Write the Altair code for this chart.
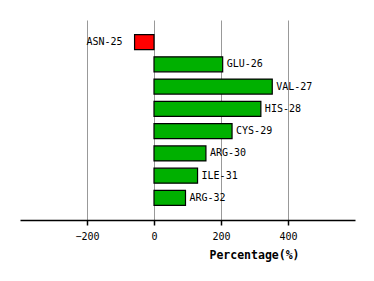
import altair as alt
import pandas as pd

residues = ["ASN-25", "GLU-26", "VAL-27", "HIS-28", "CYS-29", "ARG-30", "ILE-31", "ARG-32"]
values = [-58, 205, 353, 319, 233, 155, 130, 94]
colors = ["#ff0000" if v < 0 else "#00b000" for v in values]

df = pd.DataFrame({"res": residues, "val": values, "col": colors})

FONT = "DejaVu Sans Mono"

x = alt.X("val:Q",
          scale=alt.Scale(domain=[-400, 600], nice=False, zero=False),
          axis=alt.Axis(values=[-200, 0, 200, 400], title="Percentage(%)",
                        grid=True, gridColor="#999999", gridWidth=1,
                        domainColor="black", domainWidth=1.5,
                        tickColor="black", tickSize=5, tickWidth=1.5,
                        labelFont=FONT, labelFontSize=10, labelColor="black",
                        labelPadding=6,
                        titleFont=FONT, titleFontSize=11.5, titleFontWeight="bold",
                        titleColor="black", titleX=234, titleY=35,
                        titleBaseline="middle", titleAlign="center"))
y = alt.Y("res:N", sort=residues, axis=None,
          scale=alt.Scale(paddingInner=0.326, paddingOuter=0.655))

base = alt.Chart(df)
bars = base.mark_bar(stroke="black", strokeWidth=1.2).encode(
    x=x, x2=alt.datum(0), y=y, color=alt.Color("col:N", scale=None))
pos = base.transform_filter("datum.val >= 0").mark_text(
    align="left", dx=4, font=FONT, fontSize=10, color="black").encode(
    x="val:Q", y=y, text="res:N")
neg = base.transform_filter("datum.val < 0").mark_text(
    align="right", dx=-12, font=FONT, fontSize=10, color="black").encode(
    x="val:Q", y=y, text="res:N")

chart = alt.layer(bars, pos, neg).properties(
    width=335, height=200,
    autosize=alt.AutoSizeParams(type="none"),
    padding={"left": 20, "top": 20, "right": 19, "bottom": 61},
).configure_view(stroke=None)

chart.save("out.html", embed_options={"renderer": "svg", "actions": False})
